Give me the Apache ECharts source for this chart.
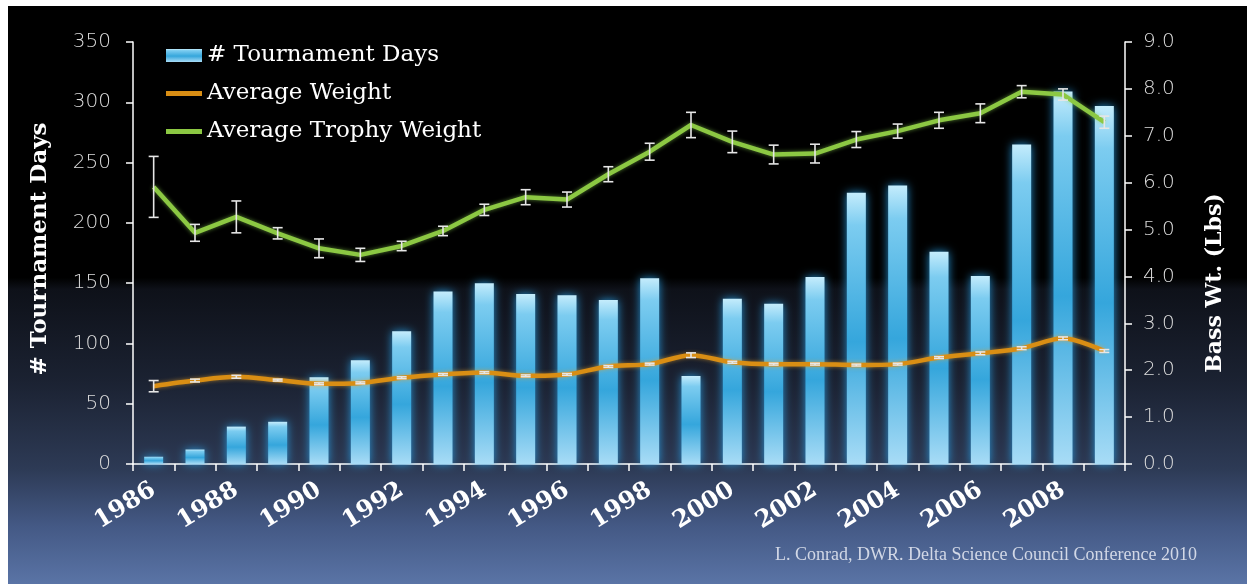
<!DOCTYPE html>
<html>
<head>
<meta charset="utf-8">
<script src="https://cdn.jsdelivr.net/npm/echarts@6/dist/echarts.min.js"></script>
<style>
  html, body { margin: 0; padding: 0; background: #ffffff; }
  #chart { width: 1247px; height: 584px; }
</style>
</head>
<body>
<div id="chart"></div>
<script>
// Bass tournament data, Sacramento–San Joaquin Delta, 1986–2009
const years = ['1986','1987','1988','1989','1990','1991','1992','1993','1994','1995','1996','1997',
               '1998','1999','2000','2001','2002','2003','2004','2005','2006','2007','2008','2009'];

// # of tournament days per year (left axis)
const tournamentDays = [6, 12, 31, 35, 72, 86, 110, 143, 150, 141, 140, 136,
                        154, 73, 137, 133, 155, 225, 231, 176, 156, 265, 309, 297];

// Average weight (lbs, right axis) and its error half-width
const avgWeight = [1.66, 1.78, 1.86, 1.79, 1.71, 1.73, 1.84, 1.91, 1.95, 1.88, 1.91, 2.08,
                   2.13, 2.32, 2.17, 2.13, 2.13, 2.11, 2.13, 2.27, 2.36, 2.47, 2.68, 2.41];
const avgWeightErr = [0.12, 0.03, 0.03, 0.02, 0.02, 0.02, 0.02, 0.02, 0.02, 0.02, 0.02, 0.02,
                      0.02, 0.05, 0.02, 0.02, 0.02, 0.02, 0.02, 0.02, 0.03, 0.03, 0.03, 0.03];

// Average trophy weight (lbs, right axis) and its error half-width
const trophyWeight = [5.91, 4.93, 5.27, 4.92, 4.60, 4.46, 4.65, 4.97, 5.42, 5.69, 5.64, 6.18,
                      6.66, 7.23, 6.87, 6.60, 6.62, 6.92, 7.10, 7.33, 7.48, 7.94, 7.88, 7.29];
const trophyWeightErr = [0.65, 0.18, 0.34, 0.12, 0.20, 0.14, 0.10, 0.10, 0.12, 0.16, 0.16, 0.16,
                         0.18, 0.27, 0.23, 0.20, 0.20, 0.17, 0.15, 0.17, 0.20, 0.13, 0.12, 0.13];

// Axis ranges
const daysMax = 350, daysStep = 50;
const weightMax = 9, weightStep = 1;

const chart = echarts.init(document.getElementById('chart'), null, { renderer: 'canvas' });

function errorData(values, errs) {
  return values.map((v, i) => [i, v - errs[i], v + errs[i]]);
}

function renderErrorBar(params, api) {
  const x = api.value(0);
  const lo = api.coord([x, api.value(1)]);
  const hi = api.coord([x, api.value(2)]);
  const hw = 5;
  const style = { stroke: '#e6e6e6', lineWidth: 1.6 };
  return {
    type: 'group',
    children: [
      { type: 'line', shape: { x1: lo[0], y1: lo[1], x2: hi[0], y2: hi[1] }, style },
      { type: 'line', shape: { x1: lo[0] - hw, y1: lo[1], x2: lo[0] + hw, y2: lo[1] }, style },
      { type: 'line', shape: { x1: hi[0] - hw, y1: hi[1], x2: hi[0] + hw, y2: hi[1] }, style }
    ]
  };
}

const barFill = new echarts.graphic.LinearGradient(0, 0, 0, 1, [
  { offset: 0, color: '#c4ecfc' },
  { offset: 0.12, color: '#7cccf0' },
  { offset: 0.55, color: '#35a6dc' },
  { offset: 1, color: '#a8dcf6' }
]);

// thick horizontal stroke used as the legend key for the line series
const lineKey = 'path://M0,0 L36,0 L36,5 L0,5 Z';

const option = {
  backgroundColor: '#ffffff',
  animation: false,
  graphic: [
    {
      type: 'rect', left: 8, top: 6, z: -10, silent: true,
      shape: { width: 1239, height: 578 },
      style: {
        fill: new echarts.graphic.LinearGradient(0, 0, 0, 1, [
          { offset: 0, color: '#000000' },
          { offset: 0.47, color: '#000000' },
          { offset: 0.49, color: '#0e1119' },
          { offset: 0.65, color: '#1b2232' },
          { offset: 0.8, color: '#2d3a55' },
          { offset: 0.9, color: '#445985' },
          { offset: 1, color: '#5a74a6' }
        ])
      }
    },
    {
      type: 'text', x: 40, y: 249, rotation: Math.PI / 2, z: 10,
      style: {
        text: '# Tournament Days', fill: '#ffffff',
        font: 'bold 23px "DejaVu Serif"', align: 'center', verticalAlign: 'middle'
      }
    },
    {
      type: 'text', x: 1215, y: 283, rotation: Math.PI / 2, z: 10,
      style: {
        text: 'Bass Wt. (Lbs)', fill: '#ffffff',
        font: 'bold 22px "DejaVu Serif"', align: 'center', verticalAlign: 'middle'
      }
    },
    {
      type: 'text', x: 775, y: 555, z: 10,
      style: {
        text: 'L. Conrad, DWR. Delta Science Council Conference 2010', fill: '#d2d8e6',
        font: '18px "Liberation Serif"', align: 'left', verticalAlign: 'middle'
      }
    }
  ],
  legend: {
    orient: 'vertical',
    left: 161,
    top: 38,
    itemWidth: 36,
    itemHeight: 13,
    itemGap: 13,
    symbolKeepAspect: true,
    textStyle: { color: '#ffffff', fontFamily: 'DejaVu Serif', fontSize: 23, lineHeight: 25 },
    data: [
      { name: '# Tournament Days', icon: 'rect' },
      { name: 'Average Weight', icon: lineKey },
      { name: 'Average Trophy Weight', icon: lineKey }
    ]
  },
  grid: { left: 133, right: 122, top: 42, bottom: 120, containLabel: false },
  xAxis: {
    type: 'category',
    data: years,
    boundaryGap: true,
    axisLine: { lineStyle: { color: '#ffffff', width: 1.5 } },
    axisTick: { show: true, interval: 0, length: 7, lineStyle: { color: '#ffffff', width: 1.5 } },
    axisLabel: {
      interval: 1,
      rotate: 32,
      margin: 24,
      color: '#ffffff',
      fontFamily: 'DejaVu Serif',
      fontWeight: 'bold',
      fontSize: 24
    },
    splitLine: { show: false }
  },
  yAxis: [
    {
      type: 'value',
      min: 0, max: daysMax, interval: daysStep,
      axisLine: { show: true, lineStyle: { color: '#ffffff', width: 1.5 } },
      axisTick: { show: true, length: 7, lineStyle: { color: '#ffffff', width: 1.5 } },
      axisLabel: { color: '#dcdcdc', fontFamily: 'DejaVu Sans', fontWeight: 'lighter', fontSize: 20, margin: 22 },
      splitLine: { show: false }
    },
    {
      type: 'value',
      min: 0, max: weightMax, interval: weightStep,
      position: 'right',
      axisLine: { show: true, lineStyle: { color: '#ffffff', width: 1.5 } },
      axisTick: { show: true, length: 7, lineStyle: { color: '#ffffff', width: 1.5 } },
      axisLabel: {
        color: '#dcdcdc', fontFamily: 'DejaVu Sans', fontWeight: 'lighter', fontSize: 20, margin: 18,
        formatter: v => v.toFixed(1)
      },
      splitLine: { show: false }
    }
  ],
  series: [
    {
      name: '# Tournament Days',
      type: 'bar',
      yAxisIndex: 0,
      data: tournamentDays,
      barWidth: 19,
      itemStyle: {
        color: barFill,
        shadowBlur: 10,
        shadowColor: 'rgba(40,160,230,0.9)'
      },
      z: 2
    },
    {
      name: 'Average Weight',
      type: 'line',
      yAxisIndex: 1,
      data: avgWeight,
      smooth: 0.3,
      symbol: 'none',
      color: '#d98e14',
      lineStyle: { color: '#d98e14', width: 4.5, shadowBlur: 4, shadowColor: 'rgba(230,160,40,0.6)' },
      z: 3
    },
    {
      name: 'Average Trophy Weight',
      type: 'line',
      yAxisIndex: 1,
      data: trophyWeight,
      symbol: 'none',
      color: '#8cc843',
      lineStyle: { color: '#8cc843', width: 4.5, shadowBlur: 4, shadowColor: 'rgba(140,210,80,0.6)' },
      z: 3
    },
    {
      name: 'avgErr',
      type: 'custom',
      yAxisIndex: 1,
      renderItem: renderErrorBar,
      encode: { x: 0, y: [1, 2] },
      data: errorData(avgWeight, avgWeightErr),
      z: 4,
      silent: true
    },
    {
      name: 'trophyErr',
      type: 'custom',
      yAxisIndex: 1,
      renderItem: renderErrorBar,
      encode: { x: 0, y: [1, 2] },
      data: errorData(trophyWeight, trophyWeightErr),
      z: 4,
      silent: true
    }
  ]
};

chart.setOption(option);
</script>
</body>
</html>
